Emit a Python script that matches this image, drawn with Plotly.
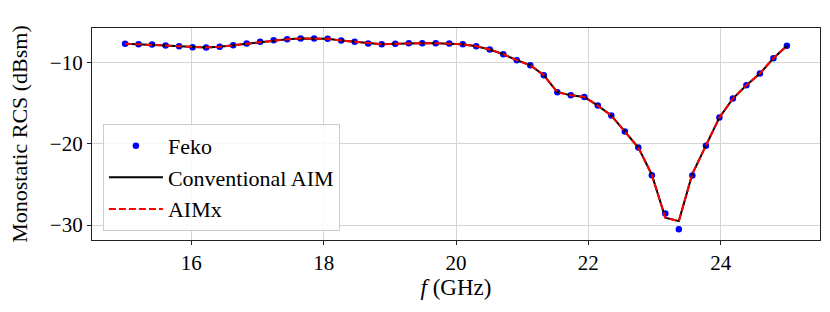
import plotly.graph_objects as go

freq = [15.0, 15.204, 15.408, 15.612, 15.816, 16.020, 16.224, 16.429, 16.633, 16.837,
        17.041, 17.245, 17.449, 17.653, 17.857, 18.061, 18.265, 18.469, 18.673, 18.878,
        19.082, 19.286, 19.490, 19.694, 19.898, 20.102, 20.306, 20.510, 20.714, 20.918,
        21.122, 21.327, 21.531, 21.735, 21.939, 22.143, 22.347, 22.551, 22.755, 22.959,
        23.163, 23.367, 23.571, 23.776, 23.980, 24.184, 24.388, 24.592, 24.796, 25.0]

feko = [-7.65, -7.70, -7.74, -7.86, -7.94, -8.07, -8.11, -8.02, -7.82, -7.61,
        -7.41, -7.20, -7.08, -7.00, -7.00, -7.04, -7.24, -7.41, -7.61, -7.70,
        -7.65, -7.57, -7.57, -7.57, -7.61, -7.70, -7.94, -8.35, -8.93, -9.67,
        -10.29, -11.52, -13.62, -13.99, -14.20, -15.27, -16.50, -18.48, -20.45, -23.85,
        -28.57, -30.53, -23.89, -20.21, -16.75, -14.40, -12.76, -11.32, -9.42, -7.90]

conv = [-7.65, -7.70, -7.74, -7.86, -7.94, -8.07, -8.11, -8.02, -7.82, -7.61,
        -7.41, -7.20, -7.08, -7.00, -7.00, -7.04, -7.24, -7.41, -7.61, -7.70,
        -7.65, -7.57, -7.57, -7.57, -7.61, -7.70, -7.94, -8.35, -8.93, -9.67,
        -10.29, -11.52, -13.62, -13.99, -14.20, -15.27, -16.50, -18.48, -20.45, -23.80,
        -29.10, -29.52, -23.70, -20.21, -16.75, -14.40, -12.76, -11.32, -9.42, -7.90]

aimx = [-7.65, -7.70, -7.74, -7.86, -7.94, -8.07, -8.11, -8.02, -7.82, -7.61,
        -7.41, -7.20, -7.08, -7.00, -7.00, -7.04, -7.24, -7.41, -7.61, -7.70,
        -7.65, -7.57, -7.57, -7.57, -7.61, -7.70, -7.94, -8.35, -8.93, -9.67,
        -10.29, -11.52, -13.62, -13.99, -14.20, -15.27, -16.50, -18.48, -20.45, -23.80,
        -29.10, -29.52, -23.70, -20.21, -16.75, -14.40, -12.76, -11.32, -9.42, -7.90]

x_ticks = [16, 18, 20, 22, 24]
y_ticks = [-10, -20, -30]

FONT = "Liberation Serif, DejaVu Serif, serif"

fig = go.Figure()
fig.add_trace(go.Scatter(x=freq, y=feko, mode="markers", name="Feko",
                         marker=dict(color="blue", size=6.5)))
fig.add_trace(go.Scatter(x=freq, y=conv, mode="lines", name="Conventional AIM",
                         line=dict(color="black", width=2)))
fig.add_trace(go.Scatter(x=freq, y=aimx, mode="lines", name="AIMx",
                         line=dict(color="red", width=2, dash="7px,3px")))

axis_common = dict(
    showline=True, linecolor="#222222", linewidth=1.2, mirror=True,
    ticks="outside", ticklen=4, tickwidth=1, tickcolor="#222222",
    showgrid=True, gridcolor="#d4d4d4", gridwidth=1, zeroline=False,
    tickfont=dict(family=FONT, size=21, color="black"),
    automargin=False,
)

fig.update_layout(
    width=830, height=312,
    margin=dict(l=92, r=10, t=28, b=72),
    paper_bgcolor="white", plot_bgcolor="white",
    font=dict(family=FONT, color="black", size=21),
    xaxis=dict(range=[14.5, 25.5], tickvals=x_ticks,
               title=dict(text="<i>f</i> (GHz)", font=dict(family=FONT, size=23), standoff=4),
               **axis_common),
    yaxis=dict(range=[-31.85, -5.7], tickvals=y_ticks,
               title=dict(text="Monostatic RCS (dBsm)", font=dict(family=FONT, size=22), standoff=16),
               **axis_common),
    legend=dict(x=0.015, y=0.043, xanchor="left", yanchor="bottom",
                bgcolor="rgba(255,255,255,0.85)", bordercolor="#cccccc", borderwidth=1,
                font=dict(family=FONT, size=22), itemwidth=54, tracegroupgap=0),
    showlegend=True,
)

fig.write_html("out.html", config={"displayModeBar": False},
               post_script="document.body.style.margin='0px';document.body.style.overflow='hidden';")
